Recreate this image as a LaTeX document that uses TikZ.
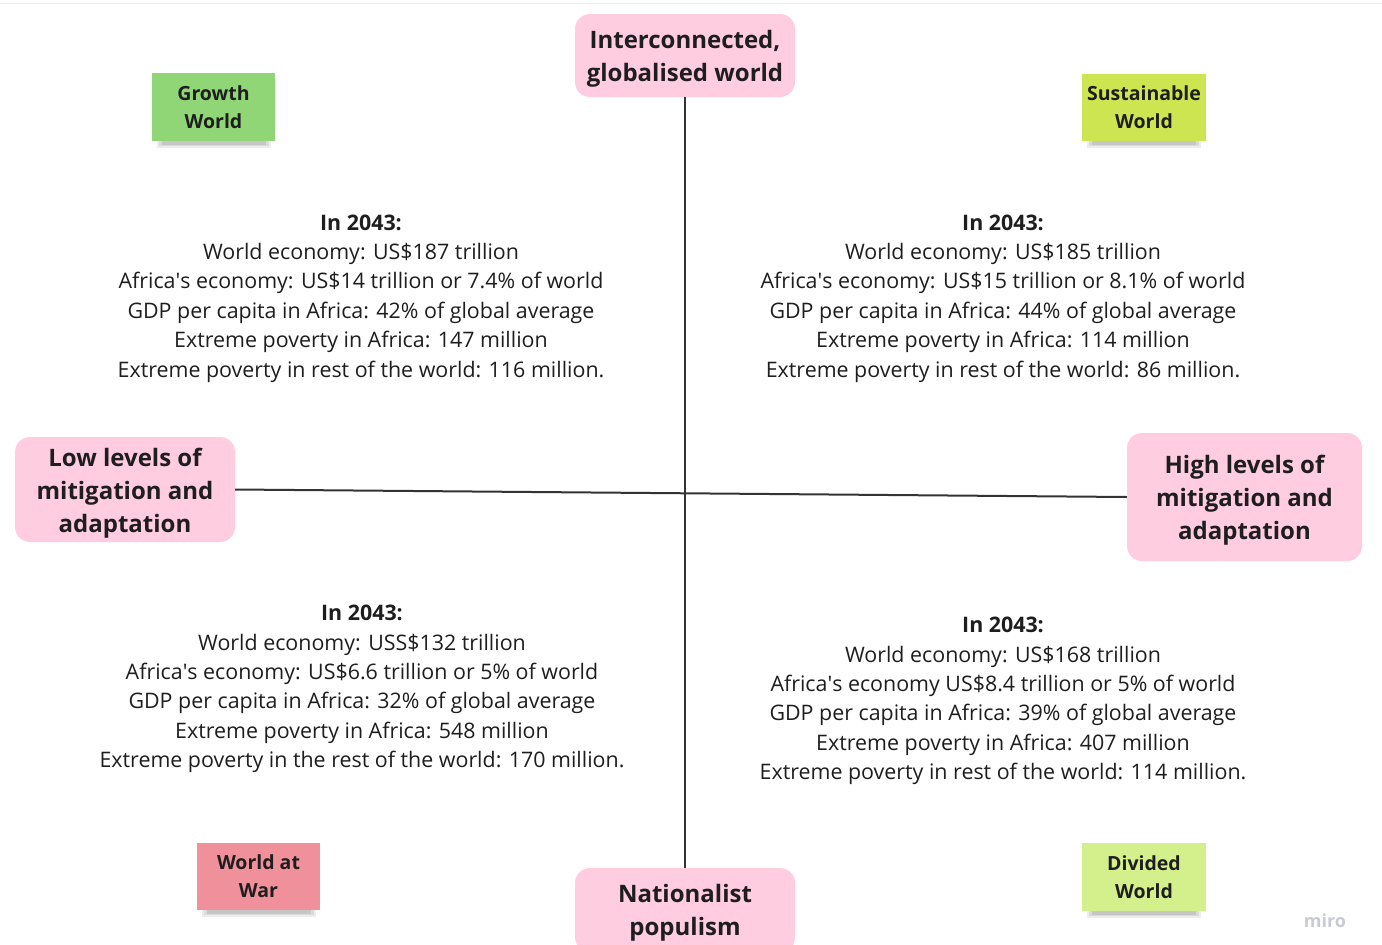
\documentclass[tikz,border=0pt]{standalone}
\usepackage{fontspec}
\setmainfont{Open Sans}
\definecolor{pinkbox}{HTML}{FFCCE0}
\definecolor{axis}{HTML}{333333}
\definecolor{growth}{HTML}{90D576}
\definecolor{sustain}{HTML}{CEE552}
\definecolor{war}{HTML}{F0909A}
\definecolor{divided}{HTML}{D3F08C}
\definecolor{txt}{HTML}{1E1E1E}
\definecolor{mirogray}{HTML}{C9CAD4}
\newcommand{\upstrut}[1]{\rule{0pt}{#1pt}}
\newcommand{\aps}{\textquotesingle}
\begin{document}
\begin{tikzpicture}[x=1pt,y=-1pt,
  axisbox/.style={fill=pinkbox, rounded corners=15pt, align=center, text=txt,
    font=\fontsize{24}{33}\selectfont\bfseries, inner sep=0pt},
  sticky/.style={align=center, text=txt, inner sep=0pt,
    font=\fontsize{19.5}{28}\selectfont\bfseries, minimum width=123pt, minimum height=68pt},
  info/.style={align=center, text=txt, inner sep=0pt,
    font=\fontsize{21.4}{29.4}\selectfont},
  axisline/.style={draw=axis, line width=2pt}]
\useasboundingbox (0,0) rectangle (1382,945);
\fill[white] (0,0) rectangle (1382,945);
\draw[black!8, line width=1pt] (0,3) -- (1382,3);

% axis boxes
\node[axisbox, minimum width=220pt, minimum height=83pt] (top) at (685,55.5) {\upstrut{24.5}Interconnected,\\globalised world};
\node[axisbox, minimum width=220pt, minimum height=105pt] (left) at (125,489.5) {\upstrut{26}Low levels of\\mitigation and\\adaptation};
\node[axisbox, minimum width=235pt, minimum height=128pt] (right) at (1244.5,497) {\upstrut{24.5}High levels of\\mitigation and\\adaptation};
\node[axisbox, minimum width=220pt, minimum height=84pt] (bottom) at (685,910) {\upstrut{24.5}Nationalist\\populism};

\draw[axisline] (top.south) -- (bottom.north);
\draw[axisline] (left.east) -- (right.west);

% sticky notes soft shadows
\foreach \x/\y in {213.5/141, 1144/141, 258.5/910, 1144/911}{
  \fill[black, opacity=0.07] (\x-57,\y-4) rectangle (\x+57,\y+7);
  \fill[black, opacity=0.08] (\x-55,\y-3) rectangle (\x+55,\y+5);
  \fill[black, opacity=0.09] (\x-52,\y-2) rectangle (\x+52,\y+3.5);
}

\node[sticky, fill=growth] (growth) at (213.5,107) {Growth\\World};
\node[sticky, fill=sustain, minimum width=124pt, minimum height=67pt] (sustain) at (1144,107.5) {Sustainable\\World};
\node[sticky, fill=war, minimum height=67pt] (war) at (258.5,876.5) {World at\\War};
\node[sticky, fill=divided, minimum width=124pt] (divided) at (1144,877) {Divided\\World};

% info blocks
\node[info] (tl) at (361,298.5) {\textbf{In 2043:}\\World economy: US\$187 trillion\\Africa\aps s economy: US\$14 trillion or 7.4\% of world\\GDP per capita in Africa: 42\% of global average\\Extreme poverty in Africa: 147 million\\Extreme poverty in rest of the world: 116 million.};
\node[info] (tr) at (1003,298.5) {\textbf{In 2043:}\\World economy: US\$185 trillion\\Africa\aps s economy: US\$15 trillion or 8.1\% of world\\GDP per capita in Africa: 44\% of global average\\Extreme poverty in Africa: 114 million\\Extreme poverty in rest of the world: 86 million.};
\node[info] (bl) at (362,689) {\textbf{In 2043:}\\World economy: USS\$132 trillion\\Africa\aps s economy: US\$6.6 trillion or 5\% of world\\GDP per capita in Africa: 32\% of global average\\Extreme poverty in Africa: 548 million\\Extreme poverty in the rest of the world: 170 million.};
\node[info] (br) at (1003,701) {\textbf{In 2043:}\\World economy: US\$168 trillion\\Africa\aps s economy US\$8.4 trillion or 5\% of world\\GDP per capita in Africa: 39\% of global average\\Extreme poverty in Africa: 407 million\\Extreme poverty in rest of the world: 114 million.};

\node[text=mirogray, font=\fontsize{18}{20}\selectfont\bfseries, inner sep=0pt] (miro) at (1325,921) {miro};
\end{tikzpicture}
\end{document}
